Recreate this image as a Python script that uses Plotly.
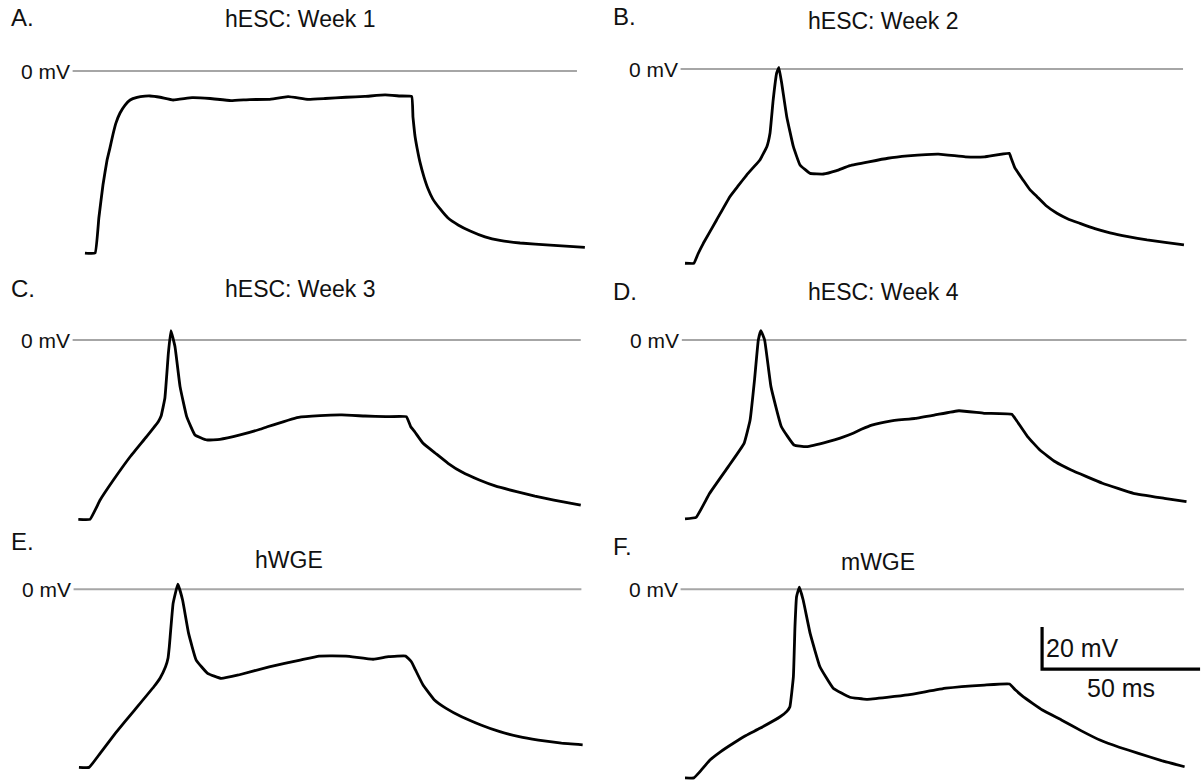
import plotly.graph_objects as go

W, H = 1202, 780

# ---------------- data (time in ms, membrane potential in mV) ----------------
panel_letters = ["A.", "B.", "C.", "D.", "E.", "F."]
panel_titles = ["hESC: Week 1", "hESC: Week 2", "hESC: Week 3",
                "hESC: Week 4", "hWGE", "mWGE"]

t_A = [0.3, 3.5, 4.7, 6.0, 7.3, 8.2, 9.2, 10.1, 11.4, 13.0, 14.6, 16.8, 19.3,
       20.9, 24.1, 28.2, 34.2, 39.9, 46.5, 52.5, 58.5, 64.6, 70.9, 76.3, 82.9,
       88.9, 95.3, 100.0, 103.7, 104.1, 104.7, 105.4, 106.3, 107.6, 108.9,
       110.4, 112.7, 115.2, 118.4, 122.2, 126.9, 131.6, 138.0, 147.5, 158.5]
v_A = [-86.7, -86.7, -70.0, -54.3, -42.4, -36.7, -30.0, -24.8, -20.0, -16.2,
       -13.8, -12.6, -12.0, -11.9, -12.5, -13.8, -12.7, -13.1, -14.1, -13.6,
       -13.5, -12.2, -13.5, -13.1, -12.5, -12.1, -11.4, -11.9, -12.2, -21.9,
       -30.5, -36.7, -43.3, -50.5, -56.2, -61.0, -65.7, -70.0, -73.3, -76.2,
       -79.0, -80.7, -81.9, -82.9, -84.0]

t_B = [0.0, 2.8, 4.1, 5.8, 10.0, 14.2, 16.8, 19.5, 21.5, 23.7, 25.9, 26.9,
       27.9, 29.0, 29.7, 30.6, 32.2, 34.3, 36.4, 39.6, 43.8, 48.0, 52.2, 64.2,
       70.5, 80.2, 88.7, 94.8, 102.6, 103.2, 104.4, 107.0, 109.2, 111.4, 114.2,
       117.7, 121.2, 125.0, 129.7, 134.5, 140.2, 146.2, 151.9, 157.9]
v_B = [-92.5, -92.5, -88.1, -83.0, -71.9, -60.8, -55.7, -50.5, -47.1, -43.3,
       -37.0, -30.6, -14.8, -2.0, 0.8, -6.8, -22.7, -37.0, -45.7, -49.7, -50.0,
       -48.4, -46.0, -42.5, -41.4, -40.5, -41.8, -41.8, -40.1, -42.4, -47.1,
       -52.9, -57.6, -60.8, -65.0, -68.7, -71.4, -73.5, -76.0, -78.0, -79.8,
       -81.4, -82.6, -83.8]

t_C = [-1.8, 1.9, 5.1, 9.3, 14.6, 19.8, 23.5, 24.4, 25.6, 26.7, 27.5, 28.8,
       30.4, 32.5, 35.1, 38.8, 43.0, 49.4, 55.7, 58.0, 67.9, 74.7, 81.6, 88.9,
       95.5, 102.0, 103.4, 104.7, 107.3, 111.1, 115.2, 119.6, 125.1, 130.1,
       136.9, 142.7, 148.7, 157.2]
v_C = [-85.4, -85.4, -76.2, -66.7, -55.6, -46.0, -38.9, -36.2, -27.6, -6.3,
       4.5, -3.2, -22.2, -36.5, -45.2, -47.6, -47.3, -45.2, -42.5, -41.3, -36.8,
       -36.0, -35.7, -36.2, -36.5, -36.5, -41.3, -43.8, -49.2, -53.8, -58.7,
       -62.9, -66.7, -69.5, -72.2, -74.3, -76.2, -78.6]

t_D = [0.0, 3.5, 7.8, 13.7, 18.7, 20.6, 22.0, 23.2, 24.0, 25.2, 27.2, 30.5,
       34.5, 38.4, 45.3, 49.1, 53.2, 56.0, 59.1, 64.9, 72.9, 79.1, 86.7, 94.6,
       103.4, 104.8, 108.4, 112.3, 117.2, 122.2, 132.1, 141.9, 151.7, 158.7]
v_D = [-85.2, -84.5, -73.0, -60.3, -49.2, -38.1, -19.0, 0.0, 4.5, 0.0, -22.2,
       -41.3, -50.0, -50.8, -48.4, -46.7, -44.4, -42.4, -40.5, -38.6, -37.3,
       -35.7, -33.7, -34.9, -35.4, -38.1, -46.0, -52.4, -58.0, -61.9, -68.2,
       -73.0, -75.4, -77.0]

t_E = [-1.6, 1.6, 5.1, 9.9, 16.0, 22.1, 24.1, 25.8, 26.6, 27.0, 28.2, 29.7,
       31.2, 33.1, 35.5, 39.1, 43.4, 48.9, 58.6, 68.4, 74.4, 82.9, 91.5, 96.4,
       101.8, 103.6, 104.9, 107.3, 110.9, 114.6, 119.5, 125.6, 131.6, 137.7,
       143.8, 151.1, 157.8]
v_E = [-84.8, -84.8, -78.1, -68.6, -57.5, -46.4, -42.2, -36.9, -32.7, -27.3,
       -6.7, 2.4, -5.1, -21.0, -33.7, -40.0, -42.4, -40.8, -36.9, -33.7, -31.8,
       -31.8, -33.3, -32.1, -31.8, -34.5, -38.4, -45.6, -52.7, -56.7, -60.7,
       -64.6, -67.8, -70.2, -71.8, -73.3, -74.1]

t_F = [0.0, 2.8, 4.7, 7.9, 11.1, 15.3, 19.3, 23.7, 30.1, 32.3, 33.2, 34.3,
       34.8, 35.3, 36.2, 37.4, 39.6, 42.7, 46.9, 52.2, 57.5, 70.5, 82.6, 94.8,
       102.7, 104.6, 107.0, 113.1, 119.1, 125.3, 131.3, 137.4, 143.5, 150.8,
       158.1]
v_F = [-89.8, -89.8, -86.9, -81.3, -77.5, -73.3, -69.6, -66.2, -60.7, -58.0,
       -55.9, -41.6, -17.8, -3.5, 1.0, -5.1, -21.0, -36.9, -47.1, -51.4, -52.4,
       -50.3, -47.1, -45.6, -45.1, -48.0, -51.1, -57.5, -62.2, -67.3, -71.8,
       -75.2, -78.1, -81.6, -84.5]

zero_line_start = [-3.6, -1.4, -3.6, -1.0, -3.3, -1.4]      # ms
zero_line_end = [156.0, 157.6, 157.2, 158.7, 157.4, 157.9]  # ms
zero_label = "0 mV"

scale_mv = 20   # vertical scale bar (mV)
scale_ms = 50   # horizontal scale bar (ms)
scale_corner_t = 113.0
scale_corner_v = -38.0

traces_t = [t_A, t_B, t_C, t_D, t_E, t_F]
traces_v = [v_A, v_B, v_C, v_D, v_E, v_F]

# ---------------- layout geometry ----------------
PX_PER_MS = 3.16
PX_PER_MV = 2.1
col_px = [(0, 601), (601, 1202)]
origin_offset_px = 84          # time zero sits 84 px right of the column edge
row_px = [(0, 272), (272, 530), (530, 780)]
zero_px = [71, 69, 340, 340, 589.3, 589.3]

FONT = "Liberation Sans, Arial, Helvetica, sans-serif"
fig = go.Figure()
layout = dict(width=W, height=H, margin=dict(l=0, r=0, t=0, b=0),
              paper_bgcolor="white", plot_bgcolor="white", showlegend=False)

annotations = []
for i in range(6):
    r, c = divmod(i, 2)
    n = "" if i == 0 else str(i + 1)
    x0p, x1p = col_px[c]
    y0p, y1p = row_px[r]
    xr = [-origin_offset_px / PX_PER_MS, (x1p - x0p - origin_offset_px) / PX_PER_MS]
    yr = [-(y1p - zero_px[i]) / PX_PER_MV, (zero_px[i] - y0p) / PX_PER_MV]
    layout["xaxis" + n] = dict(domain=[x0p / W, x1p / W], range=xr, visible=False,
                               anchor="y" + n, fixedrange=True)
    layout["yaxis" + n] = dict(domain=[1 - y1p / H, 1 - y0p / H], range=yr,
                               visible=False, anchor="x" + n, fixedrange=True)
    # 0 mV reference line
    fig.add_trace(go.Scatter(x=[zero_line_start[i], zero_line_end[i]], y=[0, 0],
                             mode="lines", line=dict(color="#a6a6a6", width=2),
                             xaxis="x" + n, yaxis="y" + n, hoverinfo="skip"))
    # voltage trace
    fig.add_trace(go.Scatter(x=traces_t[i], y=traces_v[i], mode="lines",
                             line=dict(color="black", width=2.8, shape="spline",
                                       smoothing=0.3),
                             xaxis="x" + n, yaxis="y" + n, hoverinfo="skip"))
    annotations.append(dict(x=zero_line_start[i], y=0, xref="x" + n, yref="y" + n,
                            text=zero_label, showarrow=False, xanchor="right",
                            yanchor="middle", xshift=-1,
                            font=dict(family=FONT, size=21, color="#111")))

# scale bar in panel F
fig.add_trace(go.Scatter(
    x=[scale_corner_t, scale_corner_t, scale_corner_t + scale_ms],
    y=[scale_corner_v + scale_mv, scale_corner_v, scale_corner_v],
    mode="lines", line=dict(color="black", width=3.2),
    xaxis="x6", yaxis="y6", hoverinfo="skip"))
annotations.append(dict(x=scale_corner_t, y=scale_corner_v + scale_mv / 2,
                        xref="x6", yref="y6", text=f"{scale_mv} mV",
                        showarrow=False, xanchor="left", yanchor="middle", xshift=2,
                        font=dict(family=FONT, size=25, color="#111")))
annotations.append(dict(x=scale_corner_t + scale_ms * 0.5, y=scale_corner_v,
                        xref="x6", yref="y6", text=f"{scale_ms} ms",
                        showarrow=False, xanchor="center", yanchor="top", yshift=-3,
                        font=dict(family=FONT, size=25, color="#111")))

letter_pos = [(9, 17), (611, 16), (9, 288), (611, 291), (9, 541), (611, 546)]
title_pos = [(300, 19), (883, 21), (300, 289), (883, 292), (289, 560), (878, 562)]
for i in range(6):
    lx, ly = letter_pos[i]
    tx, ty = title_pos[i]
    annotations.append(dict(x=lx / W, y=1 - ly / H, xref="paper", yref="paper",
                            text=panel_letters[i], showarrow=False, xanchor="left",
                            yanchor="middle",
                            font=dict(family=FONT, size=24, color="#111")))
    annotations.append(dict(x=tx / W, y=1 - ty / H, xref="paper", yref="paper",
                            text=panel_titles[i], showarrow=False, xanchor="center",
                            yanchor="middle",
                            font=dict(family=FONT, size=23, color="#111")))

layout["annotations"] = annotations
fig.update_layout(**layout)
fig.write_html("out.html", config={"displayModeBar": False})
